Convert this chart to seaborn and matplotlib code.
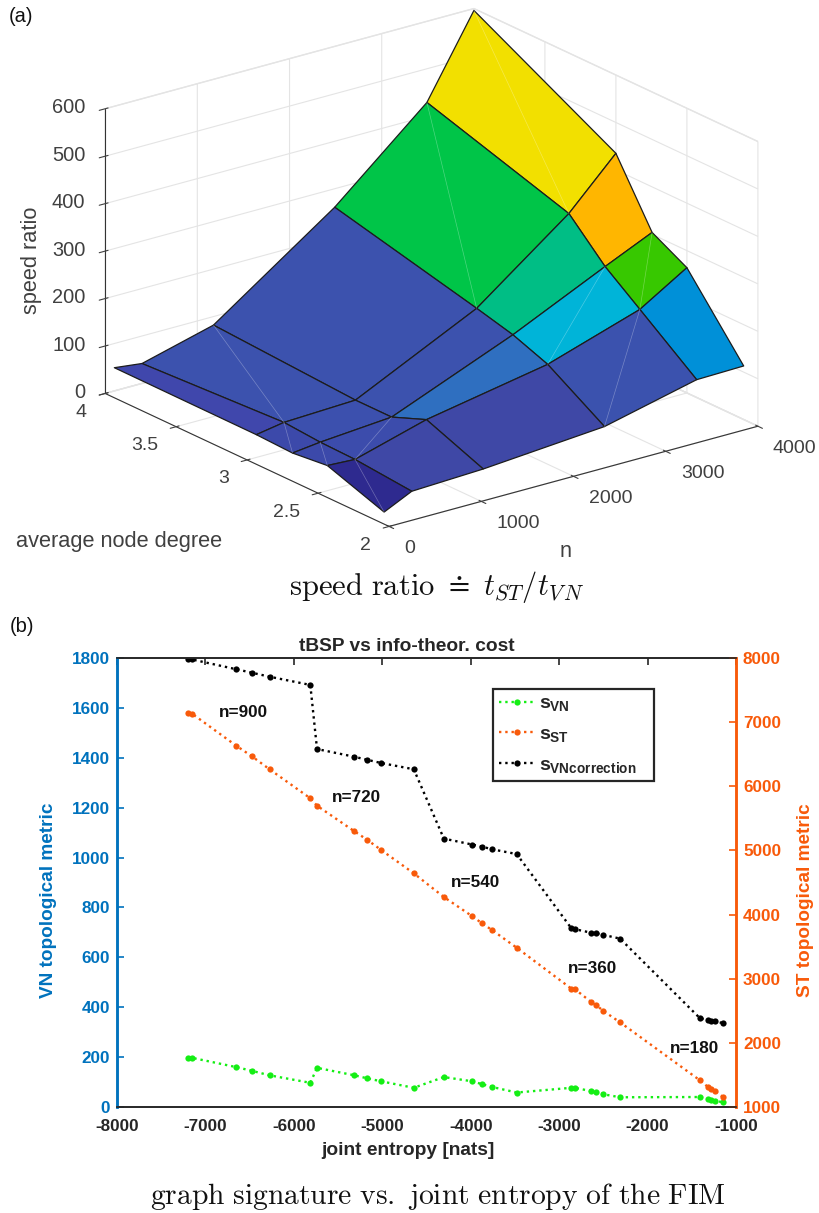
import numpy as np
import pandas as pd
import matplotlib
matplotlib.use("Agg")
import matplotlib.pyplot as plt
import seaborn as sns
from mpl_toolkits.mplot3d import Axes3D  # noqa

# ---- panel (a) data
node_counts = [100, 400, 1175, 2490, 3490, 4000]
node_degrees = [2.1, 2.5, 2.745, 3.0, 4.0]
ratio_row0 = [11, 39, 45, 65, 111, 113]
ratio_row1 = [53, 50, 93, 140, 203, 264]
ratio_row2 = [45, 52, 64, 168, 259, 304]
ratio_row3 = [48, 58, 64, 188, 335, 435]
ratio_row4 = [49, 42, 82, 261, 429, 596]
cell_row0 = ['#2E2A8F', '#3F48A6', '#3F48A6', '#3B52AE', '#0090D8']
cell_row1 = ['#3C49AA', '#3C4CAC', '#2F6FC0', '#00B4D8', '#37C800']
cell_row2 = ['#3C49AA', '#3C50AE', '#3C52AE', '#00BE85', '#FFB600']
cell_row3 = ['#4047AC', '#3C52AE', '#3C52AE', '#00C548', '#F2E000']
seams = [((4, 5), (3, 4)), ((4, 4), (3, 3)), ((4, 2), (3, 1)), ((2, 5), (1, 4)),
         ((2, 4), (1, 3)), ((1, 4), (0, 3)), ((1, 1), (0, 0)), ((3, 1), (2, 0)),
         ((2, 1), (1, 0)), ((2, 2), (1, 1))]

# ---- panel (b) data
joint_entropy = [-7196, -7150, -6652, -6474, -6275, -5814,
                 -5738, -5315, -5172, -5013, -4644,
                 -4304, -3982, -3877, -3755, -3480,
                 -2861, -2825, -2642, -2578, -2499, -2311,
                 -1408, -1320, -1283, -1238, -1147]
s_vn = [197, 197, 160, 145, 127, 97,
        157, 127, 115, 103, 77,
        120, 103, 92, 80, 58,
        77, 77, 64, 59, 51, 39,
        40, 31, 28, 25, 19]
s_st = [7138, 7130, 6633, 6467, 6265, 5813,
        5697, 5298, 5167, 5007, 4643,
        4274, 3973, 3869, 3755, 3483,
        2844, 2840, 2642, 2585, 2497, 2320,
        1416, 1316, 1285, 1249, 1156]
s_vnc = [1795, 1794, 1755, 1741, 1725, 1692,
         1435, 1404, 1392, 1379, 1354,
         1076, 1052, 1044, 1033, 1014,
         716, 713, 699, 696, 690, 675,
         356, 349, 346, 344, 336]
n_labels = ['n=900', 'n=720', 'n=540', 'n=360', 'n=180']
n_label_x = [-6573, -5293, -3945, -2620, -1464]
n_label_y = [1583, 1239, 898, 557, 236]

sns.set_theme(style='white')
plt.rcParams['font.family'] = ['Liberation Sans', 'DejaVu Sans']
plt.rcParams['mathtext.fontset'] = 'custom'
plt.rcParams['mathtext.rm'] = 'Liberation Sans:bold'
plt.rcParams['mathtext.it'] = 'Liberation Sans:bold'
plt.rcParams['mathtext.bf'] = 'Liberation Sans:bold'
plt.rcParams['axes.unicode_minus'] = False

W, H = 820, 1213
fig = plt.figure(figsize=(W / 100, H / 100), dpi=100, facecolor='white')

# ---------------- (a)
S = 705
cx, cy = 431.5, 267.5
ax3 = fig.add_axes([(cx - 0.5135 * S) / W, (H - cy - 0.5135 * S) / H, S / W, S / H],
                   projection='3d', proj_type='ortho', computed_zorder=False)
ax3.patch.set_alpha(0)
ax3.set_box_aspect((464, 469, 305))
ax3.view_init(elev=20.9, azim=-127.3)
N, D = np.meshgrid(node_counts, node_degrees)
Z = np.array([ratio_row0, ratio_row1, ratio_row2, ratio_row3, ratio_row4], float)
cells = np.array([[matplotlib.colors.to_rgba(c) for c in r]
                  for r in (cell_row0, cell_row1, cell_row2, cell_row3)])
surf = ax3.plot_surface(N, D, Z, facecolors=cells, shade=False, rstride=1, cstride=1,
                        edgecolor='#1c1c1c', linewidth=0.9, zorder=2)
for (a, b) in seams:
    ax3.plot([N[a], N[b]], [D[a], D[b]], [Z[a], Z[b]], color='white', lw=0.5, alpha=0.3, zorder=3)
ax3.set_xlim(0, 4000)
ax3.set_ylim(2, 4)
ax3.set_zlim(0, 600)
ax3.set_xticks([0, 1000, 2000, 3000, 4000])
ax3.set_yticks([2, 2.5, 3, 3.5, 4])
ax3.set_yticklabels(['2', '2.5', '3', '3.5', '4'])
ax3.set_zticks([0, 100, 200, 300, 400, 500, 600])
for axis in (ax3.xaxis, ax3.yaxis, ax3.zaxis):
    axis.set_pane_color((1, 1, 1, 1))
    axis.pane.set_edgecolor('#E4E4E4')
    axis.line.set_color('#333333')
    axis.line.set_linewidth(0.8)
    axis._axinfo['grid'].update(color='#E4E4E4', linewidth=0.8)
    axis._axinfo['tick']['color'] = '#333333'
    axis._axinfo['tick']['linewidth'] = {True: 0.8, False: 0.5}
ax3.tick_params(axis='both', labelsize=14, labelcolor='#404040', colors='#404040')
ax3.tick_params(axis='z', labelsize=14.4)
ax3.tick_params(axis='x', pad=6)
ax3.tick_params(axis='y', pad=5)
ax3.tick_params(axis='z', pad=0)
ax3.zaxis.set_ticks_position('upper')
for t in ax3.get_xticklabels():
    t.set_ha('left'); t.set_va('center')
for t in ax3.get_yticklabels():
    t.set_ha('right'); t.set_va('center')
for t in ax3.get_zticklabels():
    t.set_ha('right'); t.set_va('center')

lab = dict(color='#404040', fontsize=15.7)
fig.text(119.5 / W, 1 - 541 / H, 'average node degree', ha='center', va='center', **lab)
fig.text(32 / W, 1 - 260 / H, 'speed ratio', ha='center', va='center', rotation=90, **lab)
fig.text(566 / W, 1 - 551 / H, 'n', ha='center', va='center', **lab)
fig.text(21 / W, 1 - 16 / H, '(a)', ha='center', va='center', color='#111111', fontsize=14.5)
fig.text(22 / W, 1 - 627 / H, '(b)', ha='center', va='center', color='#111111', fontsize=14.5)
fig.text(436.5 / W, 1 - 587 / H, r'$\mathrm{speed\ ratio}\ \doteq\ t_{ST}/t_{V\,N}$', ha='center', va='center',
         fontsize=22, math_fontfamily='cm', color='#111111')
fig.text(438 / W, 1 - 1196 / H, r'$\mathrm{graph\ signature\ vs.\ joint\ entropy\ of\ the\ FIM}$',
         ha='center', va='center', fontsize=21.3, math_fontfamily='cm', color='#111111')

# ---------------- (b)
blue, orange = '#0072BD', '#F85A0A'
dark = '#262626'
ax = fig.add_axes([117 / W, 1 - 1107 / H, 619 / W, 449 / H])
ax2 = ax.twinx()
df = pd.DataFrame(dict(x=joint_entropy, vn=s_vn, st=s_st, vnc=s_vnc))
style = dict(linestyle=':', marker='o', markersize=4.5, markeredgewidth=0, linewidth=1.7,
             sort=False, estimator=None, errorbar=None)
sns.lineplot(data=df, x='x', y='vn', ax=ax, color='#14EE14', label='$s_{VN}$', **style)
sns.lineplot(data=df, x='x', y='vnc', ax=ax, color='black', label='$s_{VNcorrection}$   ', **style)
sns.lineplot(data=df, x='x', y='st', ax=ax2, color=orange, label='$s_{ST}$', **style)
ax.set_xlim(-8000, -1000)
ax.set_ylim(0, 1800)
ax2.set_ylim(1000, 8000)
ax.set_xticks(np.arange(-8000, -999, 1000))
ax.set_yticks(np.arange(0, 1801, 200))
ax2.set_yticks(np.arange(1000, 8001, 1000))
ax.grid(False); ax2.grid(False)
ax.tick_params(axis='x', direction='in', top=True, length=5, width=1.2, color=dark, labelcolor=dark,
               labelsize=12.3, pad=8.5)
ax.tick_params(axis='y', direction='in', length=5, width=1.2, color=blue, labelcolor=blue,
               labelsize=12.3, pad=5, left=True)
ax2.tick_params(axis='y', direction='in', length=5, width=1.2, color=orange, labelcolor=orange,
                labelsize=12.3, pad=5, right=True)
for t in ax.get_xticklabels() + ax.get_yticklabels() + ax2.get_yticklabels():
    t.set_fontweight('bold')
for a in (ax, ax2):
    for k in ('top', 'bottom'):
        a.spines[k].set_color(dark)
        a.spines[k].set_linewidth(1.2)
    a.spines['left'].set_color(blue); a.spines['left'].set_linewidth(1.8)
    a.spines['right'].set_color(orange); a.spines['right'].set_linewidth(1.8)
ax.set_xlabel('joint entropy [nats]', fontweight='bold', fontsize=13.8, color=dark)
ax.xaxis.set_label_coords((408 - 117) / 619, (1107 - 1142) / 449)
ax.set_ylabel('VN topological metric', fontweight='bold', fontsize=13.7, color=blue)
ax.yaxis.set_label_coords(-0.097, 0.461)
ax2.set_ylabel('ST topological metric', fontweight='bold', fontsize=13.7, color=orange)
ax2.yaxis.set_label_coords(1.099, 0.461)
ax.set_title('tBSP vs info-theor. cost', fontweight='bold', fontsize=13.8, color=dark, pad=5,
             x=(406.5 - 117) / 619)
for s, tx, ty in zip(n_labels, n_label_x, n_label_y):
    ax.text(tx, ty, s, ha='center', va='center', fontweight='bold', fontsize=12.3, color='#111111')
h1, l1 = ax.get_legend_handles_labels()
h2, l2 = ax2.get_legend_handles_labels()
if ax.get_legend():
    ax.get_legend().remove()
if ax2.get_legend():
    ax2.get_legend().remove()
handles = [h1[0], h2[0], h1[1]]
labels = [l1[0], l2[0], l1[1]]
leg = ax2.legend(handles, labels, loc='upper left',
                 bbox_to_anchor=((493 - 117) / 619, (1107 - 689) / 449), borderaxespad=0,
                 frameon=True, fancybox=False, framealpha=1, edgecolor=dark, facecolor='white',
                 fontsize=14, handlelength=1.85, labelspacing=0.63, handletextpad=0.2, borderpad=0.3)
leg.get_frame().set_linewidth(1.6)
fig.savefig('out.png', dpi=100)
